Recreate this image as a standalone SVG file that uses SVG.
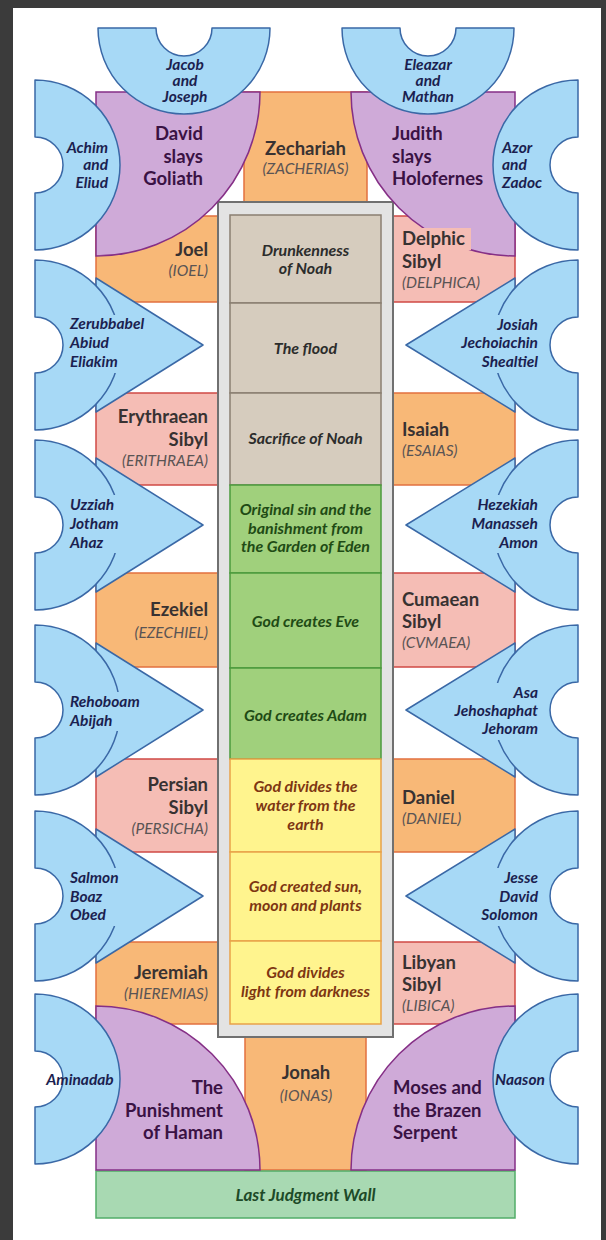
<svg xmlns="http://www.w3.org/2000/svg" width="606" height="1240" viewBox="0 0 606 1240">
<style>
.bg{fill:#3b3b3b}
.orange{fill:#f8b877;stroke:#e2703f;stroke-width:1.5}
.pink{fill:#f5bdb5;stroke:#cf4a45;stroke-width:1.5}
.purple{fill:#cfaad8;stroke:#852f86;stroke-width:1.5}
.blue{fill:#a7d9f6;stroke:#3a68a6;stroke-width:1.5;stroke-linejoin:round}
.bb{fill:#a7d9f6}
.frame{fill:#e3e3e3;stroke:#707070;stroke-width:2}
.tan{fill:#d6ccbe;stroke:#8a7f72;stroke-width:1.5}
.green{fill:#a0d07c;stroke:#4b9a3c;stroke-width:1.5}
.yellow{fill:#fff48e;stroke:#e9a24a;stroke-width:1.5}
.wall{fill:#a8d9b2;stroke:#52ad68;stroke-width:1.5}
text{font-family:Lato,"Liberation Sans",sans-serif}
.bt{font-size:15.5px;font-weight:700;font-style:italic;fill:#1b1f50}
.pt{font-size:18.5px;font-weight:700;fill:#3a1244}
.ot{font-size:18.5px;font-weight:700;fill:#383232}
.sub{font-size:15.5px;font-style:italic;fill:#5a5454}
.tt{font-size:16px;font-weight:700;font-style:italic;fill:#2c2c2c}
.gt{font-size:16px;font-weight:700;font-style:italic;fill:#1f4b15}
.yt{font-size:16px;font-weight:700;font-style:italic;fill:#7e3612}
.wt{font-size:17px;font-weight:700;font-style:italic;fill:#1d4a28}
.m{text-anchor:middle}
.e{text-anchor:end}
</style>
<rect class="bg" x="0" y="0" width="606" height="1240"/>
<rect x="13" y="8" width="588" height="1232" fill="#ffffff"/>

<!-- side rectangles -->
<g id="joel"><rect class="orange" x="96" y="216" width="122" height="86"/><text class="ot e" x="208" y="256">Joel</text><text class="sub e" x="208" y="275.5">(IOEL)</text></g>
<g id="delphic"><rect class="pink" x="393" y="216" width="122" height="86"/></g>
<g id="erythraean"><rect class="pink" x="96" y="393" width="122" height="92"/><text class="ot e" x="208" y="423">Erythraean</text><text class="ot e" x="208" y="446">Sibyl</text><text class="sub e" x="208" y="465.5">(ERITHRAEA)</text></g>
<g id="isaiah"><rect class="orange" x="393" y="393" width="122" height="92"/><text class="ot" x="402" y="436">Isaiah</text><text class="sub" x="402" y="455.5">(ESAIAS)</text></g>
<g id="ezekiel"><rect class="orange" x="96" y="573" width="122" height="94"/><text class="ot e" x="208" y="616">Ezekiel</text><text class="sub e" x="208" y="637.5">(EZECHIEL)</text></g>
<g id="cumaean"><rect class="pink" x="393" y="573" width="122" height="94"/><text class="ot" x="402" y="606">Cumaean</text><text class="ot" x="402" y="628">Sibyl</text><text class="sub" x="402" y="647.5">(CVMAEA)</text></g>
<g id="persian"><rect class="pink" x="96" y="759" width="122" height="93"/><text class="ot e" x="208" y="791">Persian</text><text class="ot e" x="208" y="814">Sibyl</text><text class="sub e" x="208" y="833.5">(PERSICHA)</text></g>
<g id="daniel"><rect class="orange" x="393" y="759" width="122" height="93"/><text class="ot" x="402" y="804">Daniel</text><text class="sub" x="402" y="823.5">(DANIEL)</text></g>
<g id="jeremiah"><rect class="orange" x="96" y="942" width="122" height="82"/><text class="ot e" x="208" y="979">Jeremiah</text><text class="sub e" x="208" y="998.5">(HIEREMIAS)</text></g>
<g id="libyan"><rect class="pink" x="393" y="942" width="122" height="82"/><text class="ot" x="402" y="969">Libyan</text><text class="ot" x="402" y="991">Sibyl</text><text class="sub" x="402" y="1010.5">(LIBICA)</text></g>

<g id="zechariah"><rect class="orange" x="244" y="92" width="123" height="112"/><text class="ot m" x="305.5" y="155">Zechariah</text><text class="sub m" x="305.5" y="174">(ZACHERIAS)</text></g>
<g id="jonah"><rect class="orange" x="245" y="1036" width="121" height="134"/><text class="ot m" x="306" y="1078.5">Jonah</text><text class="sub m" x="306" y="1100.5">(IONAS)</text></g>

<!-- central ceiling panels -->
<g id="ceiling"><rect class="frame" x="218" y="202" width="175" height="835"/></g>
<g id="drunkenness"><rect class="tan" x="230" y="215" width="151" height="88"/><text class="tt m" x="305.5" y="255.5">Drunkenness</text><text class="tt m" x="305.5" y="273.5">of Noah</text></g>
<g id="flood"><rect class="tan" x="230" y="303" width="151" height="90"/><text class="tt m" x="305.5" y="353.5">The flood</text></g>
<g id="sacrifice"><rect class="tan" x="230" y="393" width="151" height="92"/><text class="tt m" x="305.5" y="443.5">Sacrifice of Noah</text></g>
<g id="original-sin"><rect class="green" x="230" y="485" width="151" height="88"/><text class="gt m" x="305.5" y="515">Original sin and the</text><text class="gt m" x="305.5" y="533.5">banishment from</text><text class="gt m" x="305.5" y="552">the Garden of Eden</text></g>
<g id="eve"><rect class="green" x="230" y="573" width="151" height="95"/><text class="gt m" x="305.5" y="626.5">God creates Eve</text></g>
<g id="adam"><rect class="green" x="230" y="668" width="151" height="91"/><text class="gt m" x="305.5" y="720.5">God creates Adam</text></g>
<g id="water"><rect class="yellow" x="230" y="759" width="151" height="93"/><text class="yt m" x="305.5" y="792">God divides the</text><text class="yt m" x="305.5" y="811">water from the</text><text class="yt m" x="305.5" y="829.5">earth</text></g>
<g id="sun"><rect class="yellow" x="230" y="852" width="151" height="89"/><text class="yt m" x="305.5" y="892">God created sun,</text><text class="yt m" x="305.5" y="910.5">moon and plants</text></g>
<g id="light"><rect class="yellow" x="230" y="941" width="151" height="83"/><text class="yt m" x="305.5" y="977.5">God divides</text><text class="yt m" x="305.5" y="997">light from darkness</text></g>

<g id="last-judgment"><rect class="wall" x="96" y="1171" width="419" height="47"/><text class="wt m" x="305.5" y="1201">Last Judgment Wall</text></g>

<!-- purple pendentives -->
<g id="david"><path class="purple" d="M96 92 L260 92 A164 164 0 0 1 96 256 Z"/><text class="pt e" x="203" y="140">David</text><text class="pt e" x="203" y="163">slays</text><text class="pt e" x="203" y="185">Goliath</text></g>
<g id="judith"><path class="purple" d="M515 92 L351 92 A164 164 0 0 0 515 256 Z"/><text class="pt" x="392" y="140">Judith</text><text class="pt" x="392" y="163">slays</text><text class="pt" x="392" y="185">Holofernes</text></g>
<g id="delphic-label"><rect x="398" y="228" width="73" height="22" fill="#f5bdb5"/><text class="ot" x="402" y="245">Delphic</text><text class="ot" x="402" y="268">Sibyl</text><text class="sub" x="402" y="287.5">(DELPHICA)</text></g>
<g id="haman"><path class="purple" d="M96 1170 L96 1006 A164 164 0 0 1 260 1170 Z"/><text class="pt e" x="223" y="1094">The</text><text class="pt e" x="223" y="1116.5">Punishment</text><text class="pt e" x="223" y="1139">of Haman</text></g>
<g id="moses"><path class="purple" d="M515 1170 L515 1006 A164 164 0 0 0 351 1170 Z"/><text class="pt" x="393" y="1094">Moses and</text><text class="pt" x="393" y="1116.5">the Brazen</text><text class="pt" x="393" y="1139">Serpent</text></g>

<!-- blue lunettes / spandrels -->
<g id="jacob"><path class="blue" d="M98 28 A86 86 0 0 0 270 28 L212 28 A28 28 0 0 1 156 28 Z"/><text class="bt m" x="185" y="70">Jacob</text><text class="bt m" x="185" y="86">and</text><text class="bt m" x="185" y="102">Joseph</text></g>
<g id="eleazar"><path class="blue" d="M342 28 A86 86 0 0 0 514 28 L456 28 A28 28 0 0 1 400 28 Z"/><text class="bt m" x="428" y="70">Eleazar</text><text class="bt m" x="428" y="86">and</text><text class="bt m" x="428" y="102">Mathan</text></g>
<g id="achim"><path class="blue" d="M35 80 A85 85 0 0 1 35 250 L35 193 A28 28 0 0 0 35 137 Z"/><text class="bt e" x="108" y="153">Achim</text><text class="bt e" x="108" y="170">and</text><text class="bt e" x="108" y="188">Eliud</text></g>
<g id="azor"><path class="blue" d="M578 80 A85 85 0 0 0 578 250 L578 193 A28 28 0 0 1 578 137 Z"/><text class="bt" x="502" y="153">Azor</text><text class="bt" x="502" y="170">and</text><text class="bt" x="502" y="188">Zadoc</text></g>

<g id="zerubbabel"><polygon class="blue" points="96,278 203,345 96,412"/><path class="blue" d="M35 260 A85 85 0 0 1 35 430 L35 373 A28 28 0 0 0 35 317 Z"/><rect class="bb" x="104" y="315" width="24" height="58"/><text class="bt" x="70" y="329">Zerubbabel</text><text class="bt" x="70" y="348">Abiud</text><text class="bt" x="70" y="367">Eliakim</text></g>
<g id="uzziah"><polygon class="blue" points="96,458 203,525 96,592"/><path class="blue" d="M35 440 A85 85 0 0 1 35 610 L35 553 A28 28 0 0 0 35 497 Z"/><rect class="bb" x="104" y="495" width="24" height="58"/><text class="bt" x="70" y="510">Uzziah</text><text class="bt" x="70" y="529">Jotham</text><text class="bt" x="70" y="548">Ahaz</text></g>
<g id="rehoboam"><polygon class="blue" points="96,643 203,710 96,777"/><path class="blue" d="M35 625 A85 85 0 0 1 35 795 L35 738 A28 28 0 0 0 35 682 Z"/><rect class="bb" x="104" y="692" width="24" height="39"/><text class="bt" x="70" y="707">Rehoboam</text><text class="bt" x="70" y="726">Abijah</text></g>
<g id="salmon"><polygon class="blue" points="96,829 203,896 96,963"/><path class="blue" d="M35 811 A85 85 0 0 1 35 981 L35 924 A28 28 0 0 0 35 868 Z"/><rect class="bb" x="104" y="868" width="24" height="58"/><text class="bt" x="70" y="883">Salmon</text><text class="bt" x="70" y="902">Boaz</text><text class="bt" x="70" y="920">Obed</text></g>
<g id="aminadab"><path class="blue" d="M35 994 A85 85 0 0 1 35 1164 L35 1107 A28 28 0 0 0 35 1051 Z"/><text class="bt m" x="80" y="1085">Aminadab</text></g>

<g id="josiah"><polygon class="blue" points="515,278 406,345 515,412"/><path class="blue" d="M578 260 A85 85 0 0 0 578 430 L578 373 A28 28 0 0 1 578 317 Z"/><rect class="bb" x="485" y="315" width="24" height="58"/><text class="bt e" x="538" y="330">Josiah</text><text class="bt e" x="538" y="348">Jechoiachin</text><text class="bt e" x="538" y="367">Shealtiel</text></g>
<g id="hezekiah"><polygon class="blue" points="515,458 406,525 515,592"/><path class="blue" d="M578 440 A85 85 0 0 0 578 610 L578 553 A28 28 0 0 1 578 497 Z"/><rect class="bb" x="485" y="495" width="24" height="58"/><text class="bt e" x="538" y="510">Hezekiah</text><text class="bt e" x="538" y="529">Manasseh</text><text class="bt e" x="538" y="548">Amon</text></g>
<g id="asa"><polygon class="blue" points="515,643 406,710 515,777"/><path class="blue" d="M578 625 A85 85 0 0 0 578 795 L578 738 A28 28 0 0 1 578 682 Z"/><rect class="bb" x="485" y="683" width="24" height="57"/><text class="bt e" x="538" y="698">Asa</text><text class="bt e" x="538" y="716">Jehoshaphat</text><text class="bt e" x="538" y="734">Jehoram</text></g>
<g id="jesse"><polygon class="blue" points="515,829 406,896 515,963"/><path class="blue" d="M578 811 A85 85 0 0 0 578 981 L578 924 A28 28 0 0 1 578 868 Z"/><rect class="bb" x="485" y="868" width="24" height="58"/><text class="bt e" x="538" y="883">Jesse</text><text class="bt e" x="538" y="902">David</text><text class="bt e" x="538" y="920">Solomon</text></g>
<g id="naason"><path class="blue" d="M578 994 A85 85 0 0 0 578 1164 L578 1107 A28 28 0 0 1 578 1051 Z"/><text class="bt m" x="520" y="1085">Naason</text></g>

<g id="connectors"/>
</svg>
